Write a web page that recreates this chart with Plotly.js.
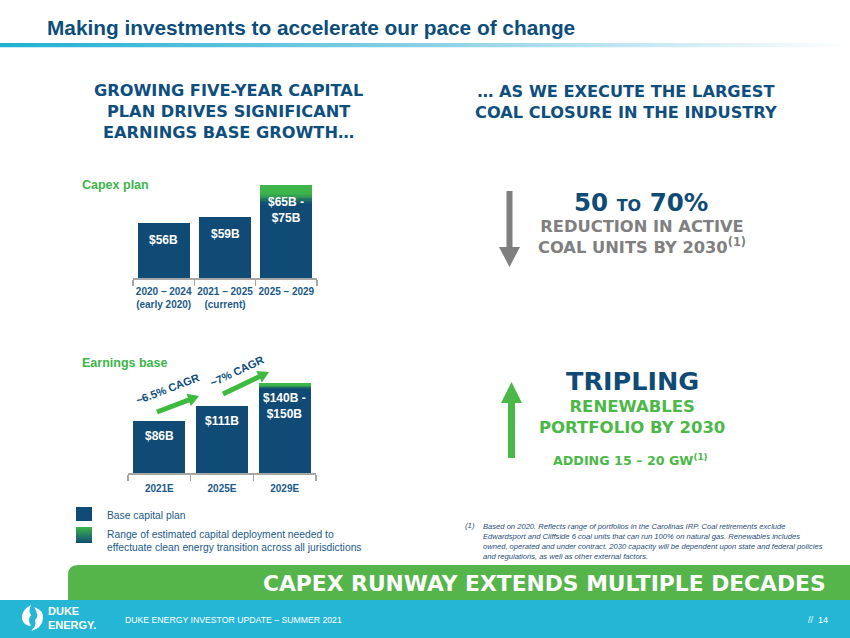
<!DOCTYPE html>
<html>
<head>
<meta charset="utf-8">
<script src="https://cdn.plot.ly/plotly-3.0.1.min.js"></script>
<style>
html,body{margin:0;padding:0;background:#fff;}
#chart{width:850px;height:638px;}
</style>
</head>
<body>
<div id="chart"></div>
<script>
// ---------- data ----------
const capexCats = ['2020 – 2024<br>(early 2020)', '2021 – 2025<br>(current)', '2025 – 2029'];
const capexBase = [56, 59, 65];
const capexHigh = [null, null, 75];
const capexLabels = ['$56B', '$59B', '$65B -<br>$75B'];

const earnCats = ['2021E', '2025E', '2029E'];
const earnBase = [86, 111, 140];
const earnHigh = [null, null, 150];
const earnLabels = ['$86B', '$111B', '$140B -<br>$150B'];

const cagrLabels = ['~6.5% CAGR', '~7% CAGR'];

// ---------- helpers ----------
const W = 850, H = 638;
const X = p => p / W;
const Y = p => 1 - p / H;

const BLUE = '#0f4b74';
const TXTBLUE = '#0d4d7c';
const GREEN = '#3db54a';
const NARROW = '"Liberation Sans Narrow","Arial Narrow","Liberation Sans",Arial,sans-serif';
const ARIAL = '"Liberation Sans",Arial,sans-serif';
const HEAVY = '"DejaVu Sans","Liberation Sans",sans-serif';

function mix(c1, c2, t) {
  const a = [1,3,5].map(i => parseInt(c1.substr(i,2),16));
  const b = [1,3,5].map(i => parseInt(c2.substr(i,2),16));
  return 'rgb(' + a.map((v,i) => Math.round(v + (b[i]-v)*t)).join(',') + ')';
}

// ---------- traces ----------
const traces = [];
function addBars(cats, base, high, xa, ya, width) {
  traces.push({type:'bar', x:cats, y:base, xaxis:xa, yaxis:ya, width:width,
    marker:{color:BLUE, line:{width:0}}, hoverinfo:'skip'});
  // range portion rendered as a vertical green->blue gradient (stacked slices)
  const N = 14;
  for (let i = 0; i < N; i++) {
    const t = (i + 0.5) / N;
    const w = Math.min(1, Math.max(0, t / 0.65));
    const s = w * w * (3 - 2 * w);
    traces.push({type:'bar', x:cats, xaxis:xa, yaxis:ya, width:width,
      y: high.map((h, k) => h == null ? null : (h - base[k]) / N),
      marker:{color: mix(BLUE, GREEN, s), line:{width:0}}, hoverinfo:'skip'});
  }
}
addBars(capexCats, capexBase, capexHigh, 'x', 'y', 0.85);
addBars(earnCats, earnBase, earnHigh, 'x2', 'y2', 0.83);

// ---------- annotations ----------
const ann = [];
function txt(text, x, y, size, color, family, opts) {
  opts = opts || {};
  ann.push(Object.assign({text, xref:'paper', yref:'paper', x:X(x), y:Y(y),
    xanchor:'center', yanchor:'middle', showarrow:false, align:'center',
    font:{family, size, color}}, opts));
}

// slide title
txt('<b>Making investments to accelerate our pace of change</b>', 45, 27, 20.8, '#0c4e7b', ARIAL, {xanchor:'left'});

// section headings
txt('<b>GROWING FIVE-YEAR CAPITAL<br>PLAN DRIVES SIGNIFICANT<br>EARNINGS BASE GROWTH…</b>', 228, 111.5, 16.2, '#0f4f7f', HEAVY);
txt('<b>… AS WE EXECUTE THE LARGEST<br>COAL CLOSURE IN THE INDUSTRY</b>', 626, 102, 16.2, '#0f4f7f', HEAVY);

// chart subtitles
txt('<b>Capex plan</b>', 80, 185, 12.5, GREEN, NARROW, {xanchor:'left'});
txt('<b>Earnings base</b>', 80, 363, 12.5, GREEN, NARROW, {xanchor:'left'});

// bar value labels (data anchored)
capexLabels.forEach((l, i) => ann.push({text:'<b>'+l+'</b>', xref:'x', yref:'y', x:capexCats[i],
  y: capexHigh[i] != null ? capexHigh[i] : capexBase[i], yanchor:'top', yshift:-8, showarrow:false,
  font:{family:ARIAL, size:12, color:'#ffffff'}}));
earnLabels.forEach((l, i) => ann.push({text:'<b>'+l+'</b>', xref:'x2', yref:'y2', x:earnCats[i],
  y: earnHigh[i] != null ? earnHigh[i] : earnBase[i], yanchor:'top', yshift:-6, showarrow:false,
  font:{family:ARIAL, size:12, color:'#ffffff'}}));

// CAGR labels
txt('<b>'+cagrLabels[0]+'</b>', 167, 389, 11, TXTBLUE, ARIAL, {textangle:-21});
txt('<b>'+cagrLabels[1]+'</b>', 237, 371, 11, TXTBLUE, ARIAL, {textangle:-25});

// right column
txt('<b>50 <span style="font-size:16px">TO</span> 70%</b>', 641, 202, 24.5, '#0f4b74', HEAVY);
txt('<b>REDUCTION IN ACTIVE<br>COAL UNITS BY 2030<sup>(1)</sup></b>', 642, 237, 16.3, '#808080', HEAVY);
txt('<b>TRIPLING</b>', 632, 381, 25.5, '#0f4b74', HEAVY);
txt('<b>RENEWABLES<br>PORTFOLIO BY 2030</b>', 632, 417, 16.5, '#4cb848', HEAVY);
txt('<b>ADDING 15 – 20 GW<sup>(1)</sup></b>', 630, 460, 12.7, '#4cb848', HEAVY);

// legend
txt('Base capital plan', 105, 515, 10.3, '#1d5a89', NARROW, {xanchor:'left'});
txt('Range of estimated capital deployment needed to<br>effectuate clean energy transition across all jurisdictions', 105, 541, 10.3, '#1d5a89', NARROW, {xanchor:'left', align:'left'});

// footnote
txt('<i>(1)</i>', 463, 525, 7.8, '#1f4e79', NARROW, {xanchor:'left'});
txt('<i>Based on 2020. Reflects range of portfolios in the Carolinas IRP. Coal retirements exclude<br>Edwardsport and Cliffside 6 coal units that can run 100% on natural gas. Renewables includes<br>owned, operated and under contract. 2030 capacity will be dependent upon state and federal policies<br>and regulations, as well as other external factors.</i>', 481, 541.5, 7.6, '#1f4e79', NARROW, {xanchor:'left', align:'left'});

// footer
txt('<b>CAPEX RUNWAY EXTENDS MULTIPLE DECADES</b>', 828, 583, 21.8, '#ffffff', HEAVY, {xanchor:'right'});
txt('DUKE ENERGY INVESTOR UPDATE – SUMMER 2021', 123, 620, 8.7, '#ffffff', NARROW, {xanchor:'left'});
txt('//  14', 830, 620, 9, '#ffffff', NARROW, {xanchor:'right'});
txt('<b>DUKE<br>ENERGY.</b>', 46, 618, 11, '#ffffff', NARROW, {xanchor:'left', align:'left'});

// ---------- shapes ----------
const shapes = [];
function poly(pts, color, layer) {
  const d = pts.map((p, i) => (i ? 'L ' : 'M ') + X(p[0]) + ',' + Y(p[1])).join(' ') + ' Z';
  shapes.push({type:'path', xref:'paper', yref:'paper', path:d, fillcolor:color, line:{width:0}, layer:layer||'above'});
}
function rect(x0, y0, x1, y1, color, layer) {
  shapes.push({type:'rect', xref:'paper', yref:'paper', x0:X(x0), x1:X(x1), y0:Y(y1), y1:Y(y0),
    fillcolor:color, line:{width:0}, layer:layer||'above'});
}
function slantArrow(tail, tip, color) {
  const dx = tip[0]-tail[0], dy = tip[1]-tail[1], len = Math.hypot(dx, dy);
  const ux = dx/len, uy = dy/len, nx = -uy, ny = ux;
  const hl = 11, hw = 6.5;
  const b = [tip[0]-hl*ux, tip[1]-hl*uy];
  shapes.push({type:'line', xref:'paper', yref:'paper', x0:X(tail[0]), y0:Y(tail[1]), x1:X(b[0]+ux), y1:Y(b[1]+uy),
    line:{color, width:5}});
  poly([[b[0]+hw*nx, b[1]+hw*ny], [b[0]-hw*nx, b[1]-hw*ny], tip], color);
}
// CAGR arrows
slantArrow([157, 412], [199, 396], '#3dbb3f');
slantArrow([223, 394], [269, 372], '#3dbb3f');
// grey down arrow
rect(506.5, 191, 512.5, 248, '#7f7f7f');
poly([[499,247],[520,247],[509.5,267]], '#7f7f7f');
// green up arrow
rect(508, 400, 515, 458, '#4cb848');
poly([[501,403],[522,403],[511.5,382]], '#4cb848');
// legend swatch (base)
rect(76, 507, 92, 521, BLUE);
// footer bands
shapes.push({type:'path', xref:'paper', yref:'paper', fillcolor:'#55b54a', line:{width:0}, layer:'below',
  path:'M '+X(68)+','+Y(600)+' L '+X(68)+','+Y(575)+' Q '+X(68)+','+Y(565)+' '+X(78)+','+Y(565)+
       ' L '+X(850)+','+Y(565)+' L '+X(850)+','+Y(600)+' Z'});
rect(0, 600, 850, 638, '#24b6d4', 'below');
// logo icon (simplified swirl)
shapes.push({type:'path', xref:'paper', yref:'paper', fillcolor:'#ffffff', line:{width:0},
  path:'M '+X(31)+','+Y(605)+' Q '+X(21)+','+Y(610)+' '+X(22)+','+Y(619)+' Q '+X(24)+','+Y(626)+' '+X(31)+','+Y(626)+
       ' Q '+X(27)+','+Y(620)+' '+X(31)+','+Y(615)+' Q '+X(28)+','+Y(611)+' '+X(31)+','+Y(605)+' Z'});
shapes.push({type:'path', xref:'paper', yref:'paper', fillcolor:'#ffffff', line:{width:0},
  path:'M '+X(34)+','+Y(607)+' Q '+X(44)+','+Y(610)+' '+X(43)+','+Y(619)+' Q '+X(42)+','+Y(628)+' '+X(31)+','+Y(631)+
       ' Q '+X(37)+','+Y(626)+' '+X(35)+','+Y(620)+' Q '+X(40)+','+Y(616)+' '+X(34)+','+Y(607)+' Z'});

// ---------- gradient images ----------
function svgURI(s) { return 'data:image/svg+xml;charset=utf-8,' + encodeURIComponent(s); }
const lineGrad = svgURI('<svg xmlns="http://www.w3.org/2000/svg" width="850" height="6" preserveAspectRatio="none"><defs><linearGradient id="g" x1="0" y1="0" x2="1" y2="0"><stop offset="0" stop-color="#1fb0d3"/><stop offset="0.5" stop-color="#8ad0e6"/><stop offset="1" stop-color="#ffffff"/></linearGradient></defs><rect width="850" height="6" fill="url(#g)"/></svg>');
const swatchGrad = svgURI('<svg xmlns="http://www.w3.org/2000/svg" width="16" height="16" preserveAspectRatio="none"><defs><linearGradient id="g" x1="0" y1="0" x2="0" y2="1"><stop offset="0" stop-color="#3db54a"/><stop offset="1" stop-color="#0f4b74"/></linearGradient></defs><rect width="16" height="16" fill="url(#g)"/></svg>');
const images = [
  {source:lineGrad, xref:'paper', yref:'paper', x:0, y:Y(43), sizex:1, sizey:4.5/H, xanchor:'left', yanchor:'top', sizing:'stretch', layer:'below'},
  {source:swatchGrad, xref:'paper', yref:'paper', x:X(76), y:Y(527), sizex:16/W, sizey:16/H, xanchor:'left', yanchor:'top', sizing:'stretch', layer:'above'}
];

// ---------- axes ----------
const tickF = {family:ARIAL, size:10, color:'#1d5a89', weight:'bold'};
function xax(domain, standoff) {
  return {domain, type:'category', showline:true, linecolor:'#a6a6a6', linewidth:1.5,
    ticks:'outside', tickson:'boundaries', ticklen:6, tickwidth:1.5, tickcolor:'#a6a6a6',
    tickangle:0, ticklabelstandoff:standoff, tickfont:tickF, showgrid:false, zeroline:false, fixedrange:true};
}
function yax(domain, range) {
  return {domain, range, visible:false, showgrid:false, zeroline:false, fixedrange:true};
}

const layout = {
  width:W, height:H, margin:{l:0, r:0, t:0, b:0},
  paper_bgcolor:'#ffffff', plot_bgcolor:'rgba(0,0,0,0)',
  showlegend:false, barmode:'stack', hovermode:false,
  xaxis: xax([X(133), X(317)], 3),
  yaxis: yax([Y(278), Y(185)], [29, 75]),
  xaxis2: Object.assign(xax([X(128), X(316)], 5), {anchor:'y2'}),
  yaxis2: Object.assign(yax([Y(473), Y(383)], [0, 150]), {anchor:'x2'}),
  annotations: ann, shapes, images
};
layout.xaxis.anchor = 'y';

Plotly.newPlot('chart', traces, layout, {staticPlot:true, displayModeBar:false});
</script>
</body>
</html>
